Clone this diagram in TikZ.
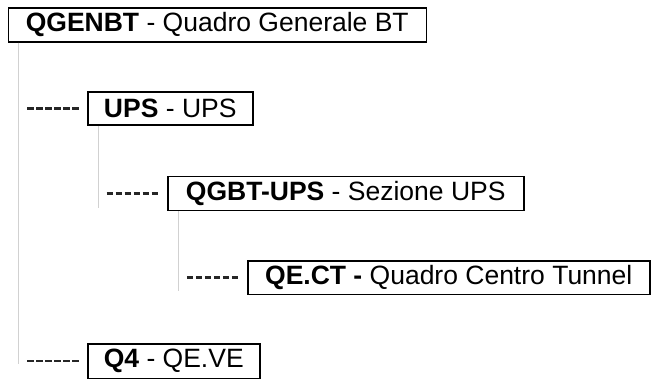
\documentclass[tikz,border=0pt]{standalone}
\usepackage{fontspec}
\setmainfont{Liberation Sans}
\begin{document}
\begin{tikzpicture}[x=1pt,y=-1pt,
  boxnode/.style={draw=black, line width=1.5pt, fill=white, anchor=north west,
    minimum height=#1, inner sep=0pt, font=\fontsize{26.5}{30}\selectfont, text=black},
  boxnode/.default=34pt,
  vline/.style={draw=black!18, line width=1.4pt},
  dashline/.style={draw=black!85, line width=2.5pt, dash pattern=on 6.5pt off 2.5pt,
    shorten <=8.3pt, shorten >=7pt}]
\useasboundingbox (0,0) rectangle (651,381);
% boxes
\node[boxnode=33.7pt, minimum width=418pt] (qgenbt) at (7.5,7.3) {\textbf{QGENBT} - Quadro Generale BT};
\node[boxnode=33.4pt, minimum width=165pt] (ups) at (87,91) {\textbf{UPS} - UPS};
\node[boxnode=34pt, minimum width=356pt] (qgbtups) at (167,175.5) {\textbf{QGBT-UPS} - Sezione UPS};
\node[boxnode=33.5pt, minimum width=402pt] (qect) at (247,260) {\textbf{QE.CT -} Quadro Centro Tunnel};
\node[boxnode=34.5pt, minimum width=172pt] (q4) at (87,343) {\textbf{Q4} - QE.VE};
% vertical tree lines
\coordinate (e1) at (18.7,364);
\coordinate (e2) at (98.4,208);
\coordinate (e3) at (178.5,291);
\draw[vline] (qgenbt.south west -| e1) -- (e1);
\draw[vline] (ups.south west -| e2) -- (e2);
\draw[vline] (qgbtups.south west -| e3) -- (e3);
% dashed branches
\draw[dashline] (e1 |- ups.west) -- (ups.west);
\draw[dashline] (e2 |- qgbtups.west) -- (qgbtups.west);
\draw[dashline] (e3 |- qect.west) -- (qect.west);
\draw[dashline] (e1 |- q4.west) -- (q4.west);
\end{tikzpicture}
\end{document}
